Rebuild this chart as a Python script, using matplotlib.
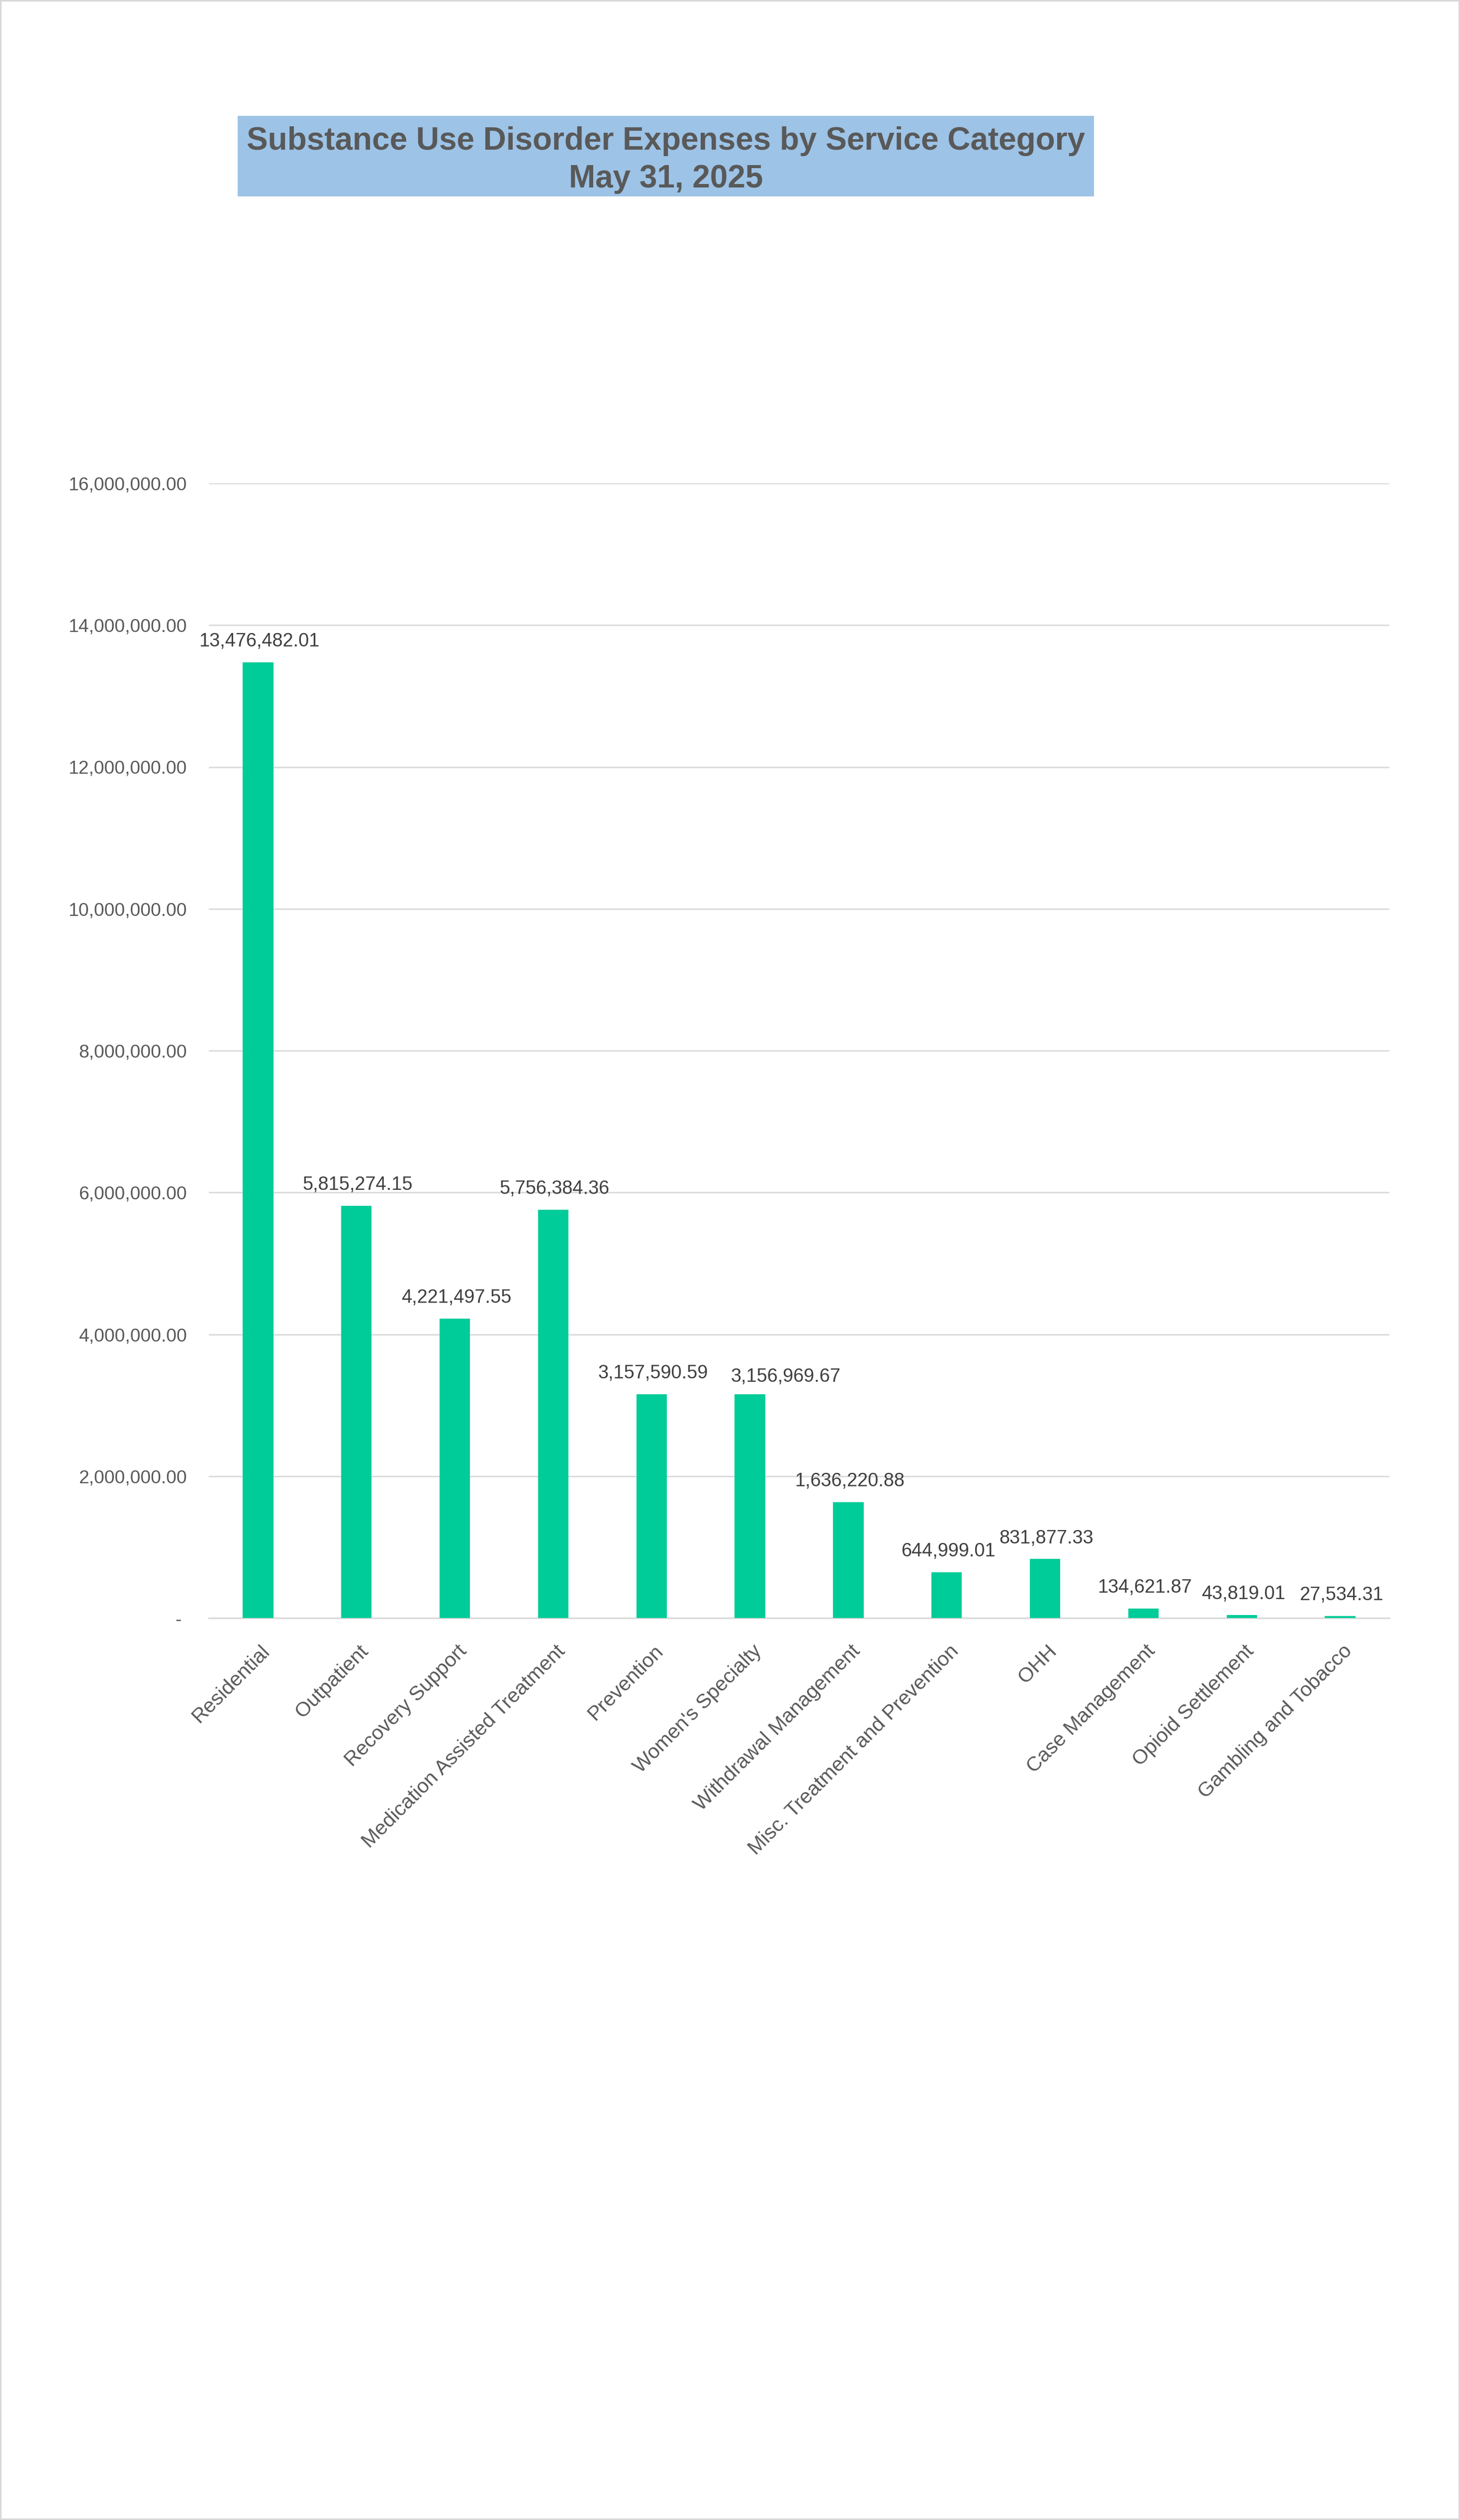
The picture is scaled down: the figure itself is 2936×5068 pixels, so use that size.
#!/usr/bin/env python3
import matplotlib
matplotlib.use('Agg')
import matplotlib.pyplot as plt
from matplotlib.patches import Rectangle
from matplotlib.ticker import FuncFormatter
from matplotlib.transforms import ScaledTranslation

plt.rcParams['font.family'] = ['Liberation Sans', 'DejaVu Sans']

## chart data
categories = ['Residential', 'Outpatient', 'Recovery Support', 'Medication Assisted Treatment',
              'Prevention', "Women's Specialty", 'Withdrawal Management',
              'Misc. Treatment and Prevention', 'OHH', 'Case Management',
              'Opioid Settlement', 'Gambling and Tobacco']
expenses = [13476482.01, 5815274.15, 4221497.55, 5756384.36,
            3157590.59, 3156969.67, 1636220.88,
            644999.01, 831877.33, 134621.87,
            43819.01, 27534.31]
y_ticks = [0, 2000000, 4000000, 6000000, 8000000, 10000000, 12000000, 14000000, 16000000]
title_lines = ['Substance Use Disorder Expenses by Service Category', 'May 31, 2025']

BAR_COLOR = '#00CC99'
GRID_COLOR = '#D9D9D9'
TICK_COLOR = '#595959'
LABEL_COLOR = '#404040'

W, H = 2936, 5068
fig = plt.figure(figsize=(W/100, H/100), dpi=100, facecolor='white')

## page border
fig.patches.append(Rectangle((0, 0), 1, 1, transform=fig.transFigure, fill=False,
                             edgecolor=GRID_COLOR, linewidth=4.5, clip_on=False))

## title box
bx0, bx1, by0, by1 = 478/W, 2200/W, 1-395/H, 1-233/H
fig.patches.append(Rectangle((bx0, by0), bx1-bx0, by1-by0, transform=fig.transFigure,
                             facecolor='#9DC3E6', edgecolor='none'))
xc = (bx0+bx1)/2
fig.text(xc, 1-301/H, title_lines[0], ha='center', va='baseline',
         fontsize=46, fontweight='bold', color=TICK_COLOR)
fig.text(xc, 1-377/H, title_lines[1], ha='center', va='baseline',
         fontsize=46, fontweight='bold', color=TICK_COLOR)

## plot area
ax = fig.add_axes([420/W, 1-3254/H, 2374/W, (3254-972)/H])
x = list(range(len(categories)))
ax.bar(x, expenses, width=0.31, color=BAR_COLOR, zorder=3)

## data labels; the Women's Specialty label is pushed right so it clears its neighbour
nudge = {"Women's Specialty": (50, -5)}
for xi, cat, v in zip(x, categories, expenses):
    dx, dy = nudge.get(cat, (0, 0))
    ax.annotate(f'{v:,.2f}', (xi, v), xytext=(2+dx, 17+dy), textcoords='offset points',
                ha='center', va='bottom', fontsize=27.3, color=LABEL_COLOR)

ax.set_xlim(-0.5, len(categories)-0.5)
ax.set_ylim(0, 16000000)
ax.set_yticks(y_ticks)
ax.yaxis.set_major_formatter(FuncFormatter(lambda v, p: '- ' if v == 0 else f'{v:,.2f}'))
ax.yaxis.grid(True, color=GRID_COLOR, linewidth=2)
ax.set_axisbelow(True)

for side in ('top', 'right', 'left'):
    ax.spines[side].set_visible(False)
ax.spines['bottom'].set_color(GRID_COLOR)
ax.spines['bottom'].set_linewidth(2.3)

ax.tick_params(axis='y', length=0, pad=32, labelsize=26.7, labelcolor=TICK_COLOR)
ax.tick_params(axis='x', length=0, pad=34, labelsize=29.5, labelcolor=TICK_COLOR)
ax.set_xticks(x)
ax.set_xticklabels(categories, rotation=45, ha='right', va='top', rotation_mode='anchor')
shift = ScaledTranslation(3/72, 0, fig.dpi_scale_trans)
for lab in ax.get_xticklabels():
    lab.set_transform(lab.get_transform() + shift)

fig.savefig('out.png', dpi=100, facecolor='white')
print('out.png generated')
